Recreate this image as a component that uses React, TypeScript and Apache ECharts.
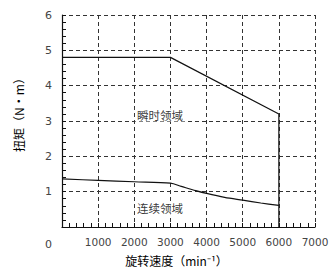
import React, { useEffect, useRef } from "react";
import * as echarts from "echarts";

const peakSpeed = [0, 3000, 6000, 6000];
const peakTorque = [4.8, 4.8, 3.2, 0];
const contSpeed = [0, 1000, 2000, 3000, 3300, 3700, 4000, 4500, 5000, 5500, 6000];
const contTorque = [1.36, 1.32, 1.28, 1.24, 1.15, 1.03, 0.95, 0.84, 0.76, 0.68, 0.61];
const regionLabels = ["瞬时领域", "连续领域"];
const regionPos = [
  [2710, 3.18],
  [2710, 0.53],
];

export default function App() {
  const ref = useRef<HTMLDivElement>(null);
  useEffect(() => {
    const chart = echarts.init(ref.current!, null, { renderer: "svg" });
    const gridLine = { show: true, lineStyle: { color: "#333", width: 1, type: [4, 3] as any } };
    chart.setOption({
      animation: false,
      backgroundColor: "#fff",
      grid: { left: 62, right: 20, top: 15, bottom: 41 },
      xAxis: {
        type: "value",
        min: 0,
        max: 7000,
        interval: 1000,
        name: "旋转速度（min⁻¹）",
        nameLocation: "middle",
        nameGap: 27,
        nameTextStyle: { fontFamily: "Noto Sans CJK SC", fontSize: 12, color: "#000", padding: [0, 24, 0, 0] },
        axisLine: { show: true, lineStyle: { color: "#111", width: 1.2 } },
        axisTick: { show: true, inside: true, length: 4, lineStyle: { color: "#111" } },
        minorTick: { show: true, splitNumber: 5, length: 4, lineStyle: { color: "#111" } },
        splitLine: gridLine,
        axisLabel: {
          fontFamily: "DejaVu Sans",
          fontSize: 10.5,
          color: "#444",
          margin: 10,
          formatter: (v: number) => (v === 0 ? "" : String(v)),
        },
      },
      yAxis: {
        type: "value",
        min: 0,
        max: 6,
        interval: 1,
        name: "扭矩（N•m）",
        nameLocation: "middle",
        nameRotate: 90,
        nameGap: 38,
        nameTextStyle: { fontFamily: "Noto Sans CJK SC", fontSize: 12, color: "#000", padding: [0, 0, 0, 18] },
        axisLine: { show: true, lineStyle: { color: "#111", width: 1.2 } },
        axisTick: { show: true, inside: true, length: 4, lineStyle: { color: "#111" } },
        minorTick: { show: true, splitNumber: 5, length: 4, lineStyle: { color: "#111" } },
        splitLine: gridLine,
        axisLabel: {
          fontFamily: "DejaVu Sans",
          fontSize: 11,
          color: "#444",
          margin: 10,
          formatter: (v: number) => (v === 0 ? "" : String(v)),
        },
      },
      graphic: [
        {
          type: "text",
          left: 45,
          top: 239,
          style: { text: "0", fontFamily: "DejaVu Sans", fontSize: 11, fill: "#444" },
        },
      ],
      series: [
        {
          type: "line",
          data: peakSpeed.map((s, i) => [s, peakTorque[i]]),
          symbol: "none",
          lineStyle: { color: "#111", width: 1.2 },
          itemStyle: { color: "#111" },
          z: 5,
        },
        {
          type: "line",
          data: contSpeed.map((s, i) => [s, contTorque[i]]),
          symbol: "none",
          smooth: 0.3,
          lineStyle: { color: "#111", width: 1.2 },
          itemStyle: { color: "#111" },
          z: 5,
        },
        {
          type: "scatter",
          data: regionPos.map((p, i) => ({ value: p, name: regionLabels[i] })),
          symbolSize: 0,
          itemStyle: { color: "#111" },
          z: 6,
          label: {
            show: true,
            position: "inside",
            formatter: (p: any) => p.name,
            fontFamily: "Noto Sans CJK SC",
            fontSize: 11.5,
            color: "#000",
            textBorderWidth: 0,
            backgroundColor: "#fff",
            padding: [1, 2],
          },
        },
      ],
    });
    return () => chart.dispose();
  }, []);
  return <div ref={ref} style={{ position: "fixed", left: 0, top: 0, width: 335, height: 271 }} />;
}
